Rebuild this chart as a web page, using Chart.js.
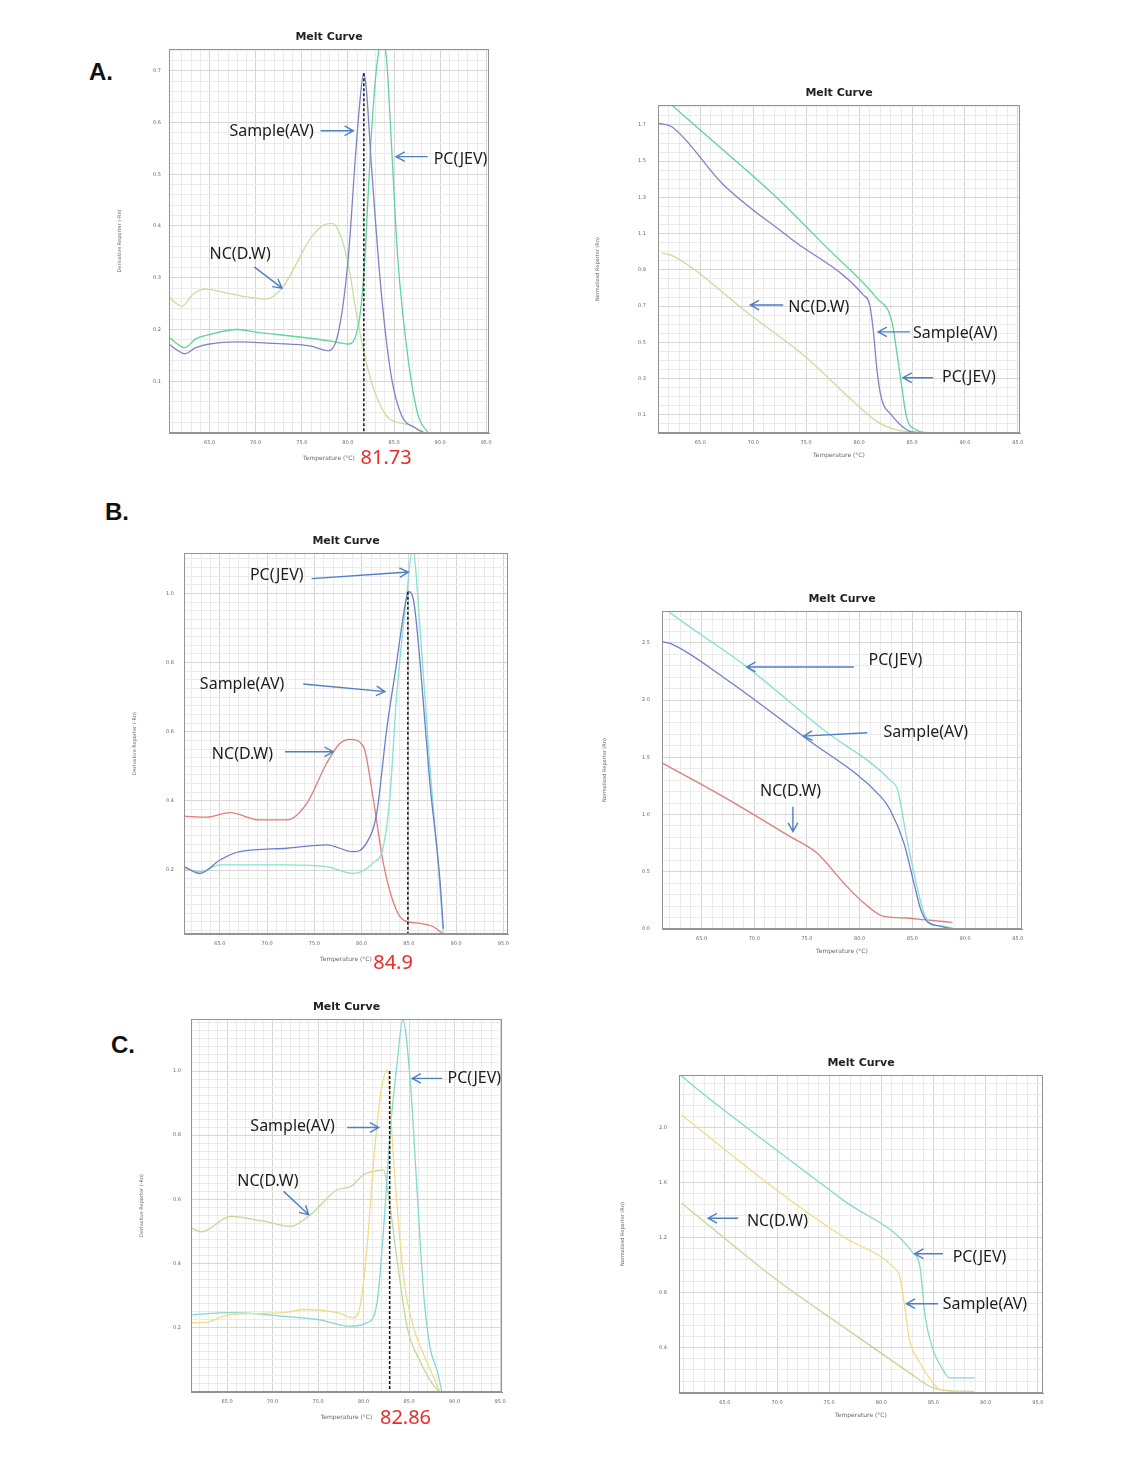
<!DOCTYPE html>
<html>
<head>
<meta charset="utf-8">
<script src="https://cdn.jsdelivr.net/npm/chart.js"></script>
<style>
body { margin: 0; background: #fff; }
#page { position: relative; width: 1145px; height: 1465px; overflow: hidden; background: #fff; }
.panel { position: absolute; font: bold 24px "Liberation Sans", Arial, sans-serif; color: #111; line-height: 28px; }
canvas { position: absolute; }
</style>
</head>
<body>
<div id="page">
  <div class="panel" style="left:89px;top:58px">A.</div>
  <div class="panel" style="left:105px;top:498px">B.</div>
  <div class="panel" style="left:111px;top:1031px">C.</div>
</div>
<script>
// ---- data: [temperature, value] ----
const tempTicks = [65, 70, 75, 80, 85, 90, 95];

// A. derivative
const aDerivSample = [[60.6,0.172],[61.5,0.16],[62.3,0.153],[63.5,0.165],[65,0.172],[68,0.176],[72,0.173],[76,0.168],[77.9,0.159],[79.0,0.197],[80.05,0.34],[80.8,0.53],[81.3,0.64],[81.7,0.695],[82.0,0.665],[82.5,0.53],[83.6,0.275],[84.7,0.11],[85.8,0.035],[87.3,0.01],[88.3,0]];
const aDerivPC = [[60.6,0.185],[61.5,0.172],[62.3,0.165],[63.5,0.182],[65,0.19],[67.9,0.2],[70,0.195],[75,0.185],[78,0.178],[80,0.172],[80.8,0.185],[81.4,0.24],[81.85,0.34],[82.5,0.565],[83.2,0.72],[83.7,0.76],[84.2,0.72],[84.7,0.565],[85.4,0.34],[86.5,0.147],[87.6,0.035],[88.7,0]];
const aDerivNC = [[60.6,0.263],[62.0,0.245],[63.2,0.268],[64.6,0.278],[67,0.27],[69,0.263],[71.1,0.259],[72.9,0.281],[74.5,0.33],[75.75,0.371],[77.2,0.4],[78.3,0.405],[79.0,0.39],[79.7,0.352],[80.3,0.3],[80.8,0.243],[81.85,0.147],[82.9,0.08],[84.35,0.03],[86.5,0.016],[88.3,0]];
const aDerivYTicks = [0.1, 0.2, 0.3, 0.4, 0.5, 0.6, 0.7];
const aTm = [[81.73,0.695],[81.73,0]];

// A. normalized
const aNormSample = [[61.07,1.709],[62.3,1.69],[67.2,1.369],[73.5,1.075],[80.4,0.762],[81.0,0.707],[81.35,0.56],[81.67,0.358],[82.0,0.22],[82.3,0.156],[82.9,0.11],[84.0,0.04],[84.8,0.009],[86,0.002],[89.1,0]];
const aNormPC = [[61.0,1.88],[62.3,1.81],[67,1.57],[72.2,1.3],[77,1.02],[81.67,0.744],[83.1,0.615],[83.55,0.45],[84.0,0.266],[84.5,0.083],[85.4,0.018],[86.1,0.004],[89.1,0]];
const aNormNC = [[61.4,0.992],[62.3,0.98],[69.7,0.652],[74.7,0.432],[79.8,0.156],[81.67,0.064],[82.9,0.028],[84.8,0.005],[89.1,0]];
const aNormYTicks = [0.1, 0.3, 0.5, 0.7, 0.9, 1.1, 1.3, 1.5, 1.7];

// B. derivative
const bDerivPC = [[61.2,0.205],[62.9,0.195],[65.0,0.215],[72.1,0.215],[76.3,0.21],[79.1,0.19],[80.3,0.2],[81.2,0.22],[82.3,0.268],[83.0,0.412],[83.7,0.70],[84.76,0.99],[85.4,1.13],[86.2,0.894],[87.2,0.509],[88.1,0.22],[88.65,0.017]];
const bDerivSample = [[61.2,0.21],[62.9,0.19],[65.0,0.229],[67.1,0.253],[72.1,0.263],[76.3,0.273],[79.1,0.253],[80.5,0.277],[81.6,0.364],[82.65,0.605],[83.7,0.798],[84.5,0.95],[84.95,1.005],[85.5,0.98],[86.2,0.798],[87.2,0.46],[88.3,0.17],[88.65,0.03]];
const bDerivNC = [[61.2,0.356],[63.6,0.353],[66.06,0.366],[69.2,0.345],[72.1,0.345],[74.2,0.393],[76.3,0.509],[77.7,0.566],[78.8,0.578],[80.2,0.557],[81.2,0.412],[82.3,0.22],[83.4,0.104],[84.4,0.056],[86.2,0.046],[87.6,0.036],[88.65,0.015]];
const bDerivYTicks = [0.2, 0.4, 0.6, 0.8, 1.0];
const bTm = [[84.9,1.005],[84.9,0.015]];

// B. normalized
const bNormPC = [[61.25,2.82],[62.14,2.755],[69.3,2.29],[76.6,1.738],[82.9,1.30],[83.6,1.214],[84.5,0.778],[85.5,0.343],[86.1,0.139],[86.7,0.052],[88.0,0.023],[88.8,0.009]];
const bNormSample = [[61.34,2.508],[62.14,2.49],[67.06,2.20],[74.7,1.68],[82.0,1.156],[82.9,1.04],[84.2,0.75],[85.15,0.40],[85.8,0.168],[86.4,0.066],[87.7,0.023],[88.8,0]];
const bNormNC = [[61.34,1.447],[67.06,1.156],[73.4,0.807],[75.95,0.663],[78.5,0.40],[80.4,0.227],[82.3,0.11],[84.5,0.096],[86.1,0.081],[88.8,0.058]];
const bNormYTicks = [0.0, 0.5, 1.0, 1.5, 2.0, 2.5];

// C. derivative
const cDerivPC = [[61.04,0.241],[65.36,0.247],[71.2,0.236],[74.9,0.226],[78.55,0.205],[80.4,0.216],[81.5,0.283],[82.2,0.511],[82.95,0.822],[83.7,1.03],[84.3,1.16],[85.1,0.977],[85.9,0.614],[86.6,0.304],[87.3,0.138],[88.1,0.065],[88.6,0]];
const cDerivSample = [[61.04,0.216],[62.4,0.216],[65.36,0.241],[71.2,0.247],[73.4,0.257],[77.1,0.247],[78.9,0.231],[79.65,0.273],[80.4,0.459],[81.1,0.718],[81.85,0.925],[82.6,1.003],[83.3,0.718],[84.4,0.356],[85.5,0.2],[86.6,0.117],[87.7,0.045],[88.4,0]];
const cDerivNC = [[61.04,0.511],[62.25,0.499],[65.36,0.547],[69.0,0.532],[71.96,0.516],[74.15,0.552],[77.1,0.63],[78.55,0.64],[80.0,0.677],[81.5,0.69],[82.2,0.692],[82.6,0.64],[83.7,0.407],[84.8,0.2],[86.2,0.096],[87.7,0.02],[88.4,0]];
const cDerivYTicks = [0.2, 0.4, 0.6, 0.8, 1.0];
const cTm = [[82.86,1.0],[82.86,0]];

// C. normalized
const cNormPC = [[60.6,2.39],[60.85,2.372],[69.95,1.836],[76.3,1.474],[83.04,1.088],[83.7,0.99],[84.2,0.629],[84.95,0.388],[85.9,0.243],[86.55,0.183],[88.95,0.183]];
const cNormSample = [[60.85,2.09],[69.95,1.546],[76.3,1.208],[81.1,0.99],[81.76,0.918],[82.24,0.701],[82.7,0.46],[83.7,0.291],[84.95,0.147],[85.6,0.098],[88.9,0.079]];
const cNormNC = [[60.85,1.45],[69.95,0.894],[76.3,0.556],[82.7,0.219],[84.6,0.122],[85.6,0.098],[88.9,0.084]];
const cNormYTicks = [0.4, 0.8, 1.2, 1.6, 2.0];

// annotations (text start point and arrow, in data units)
const aDerivNotes = [
  {text:'Sample(AV)', at:[67.15,0.582], from:[77.04,0.584], to:[80.59,0.584]},
  {text:'PC(JEV)', at:[89.3,0.528], from:[88.66,0.534], to:[85.22,0.534]},
  {text:'NC(D.W)', at:[65.0,0.346], from:[69.84,0.321], to:[72.85,0.280]}
];
const aNormNotes = [
  {text:'NC(D.W)', at:[73.3,0.695], from:[72.83,0.706], to:[69.72,0.706]},
  {text:'Sample(AV)', at:[85.09,0.547], from:[84.81,0.558], to:[81.79,0.558]},
  {text:'PC(JEV)', at:[87.83,0.305], from:[86.98,0.305], to:[84.15,0.305]}
];
const bDerivNotes = [
  {text:'PC(JEV)', at:[68.18,1.053], from:[74.71,1.043], to:[84.95,1.062]},
  {text:'Sample(AV)', at:[62.88,0.738], from:[73.82,0.738], to:[82.48,0.716]},
  {text:'NC(D.W)', at:[64.15,0.533], from:[71.89,0.542], to:[77.0,0.542]}
];
const bNormNotes = [
  {text:'PC(JEV)', at:[80.84,2.348], from:[79.44,2.289], to:[69.29,2.289]},
  {text:'Sample(AV)', at:[82.27,1.72], from:[80.71,1.714], to:[74.68,1.685]},
  {text:'NC(D.W)', at:[70.55,1.2], from:[73.67,1.069], to:[73.67,0.851]}
];
const cDerivNotes = [
  {text:'PC(JEV)', at:[89.21,0.978], from:[88.63,0.977], to:[85.33,0.977]},
  {text:'Sample(AV)', at:[67.56,0.827], from:[78.19,0.824], to:[81.66,0.824]},
  {text:'NC(D.W)', at:[66.13,0.656], from:[71.22,0.625], to:[73.97,0.552]}
];
const cNormNotes = [
  {text:'NC(D.W)', at:[67.11,1.317], from:[66.27,1.341], to:[63.4,1.341]},
  {text:'PC(JEV)', at:[86.84,1.054], from:[85.91,1.083], to:[83.2,1.083]},
  {text:'Sample(AV)', at:[85.88,0.714], from:[85.43,0.721], to:[82.4,0.721]}
];

// ---- drawing ----
Chart.defaults.font.family = '"DejaVu Sans", sans-serif';
Chart.defaults.animation = false;

const near = (v, list) => list.some(t => Math.abs(v - t) < 1e-6);

const meltDecor = {
  id: 'meltDecor',
  afterDatasetsDraw(chart, args, o) {
    const {ctx, chartArea: a, scales: {x, y}} = chart;
    ctx.save();
    ctx.strokeStyle = '#939393';
    ctx.lineWidth = 1;
    ctx.strokeRect(a.left + 0.5, a.top + 0.5, a.right - a.left - 1, a.bottom - a.top - 1);

    ctx.textAlign = 'center';
    ctx.textBaseline = 'middle';
    ctx.fillStyle = '#222';
    ctx.font = 'bold 11px "DejaVu Sans"';
    ctx.fillText('Melt Curve', (a.left + a.right) / 2, a.top - 12);

    ctx.fillStyle = '#666';
    ctx.font = '6px "DejaVu Sans"';
    ctx.fillText('Temperature (°C)', (a.left + a.right) / 2, a.bottom + o.xTitleDy);
    ctx.save();
    ctx.translate(a.left - o.yTitleDx, (a.top + a.bottom) / 2);
    ctx.rotate(-Math.PI / 2);
    ctx.font = '5px "DejaVu Sans"';
    ctx.fillText(o.yTitle, 0, 0);
    ctx.restore();

    if (o.mark) {
      ctx.fillStyle = '#ee2b2b';
      ctx.font = '20px "Noto Sans"';
      ctx.fillText(o.mark.text, x.getPixelForValue(o.mark.x), a.bottom + o.mark.dy);
    }

    ctx.textAlign = 'left';
    o.notes.forEach(n => {
      ctx.fillStyle = '#1d1d1d';
      ctx.font = '16px "Noto Sans"';
      ctx.fillText(n.text, x.getPixelForValue(n.at[0]), y.getPixelForValue(n.at[1]));
      const x1 = x.getPixelForValue(n.from[0]), y1 = y.getPixelForValue(n.from[1]);
      const x2 = x.getPixelForValue(n.to[0]), y2 = y.getPixelForValue(n.to[1]);
      const ang = Math.atan2(y2 - y1, x2 - x1);
      ctx.strokeStyle = '#4f7fc2';
      ctx.lineWidth = 1.4;
      ctx.beginPath();
      ctx.moveTo(x1, y1); ctx.lineTo(x2, y2);
      ctx.moveTo(x2 - 10 * Math.cos(ang - 0.5), y2 - 10 * Math.sin(ang - 0.5));
      ctx.lineTo(x2, y2);
      ctx.lineTo(x2 - 10 * Math.cos(ang + 0.5), y2 - 10 * Math.sin(ang + 0.5));
      ctx.stroke();
    });
    ctx.restore();
  }
};

function meltChart(p) {
  const [L, T, W, H] = p.box;
  const cv = document.createElement('canvas');
  const padL = 65, padT = 28, padR = 40, padB = 55;
  cv.width = W + padL + padR;
  cv.height = H + padT + padB;
  cv.style.left = (L - padL) + 'px';
  cv.style.top = (T - padT) + 'px';
  cv.style.width = cv.width + 'px';
  cv.style.height = cv.height + 'px';
  document.getElementById('page').appendChild(cv);

  const datasets = p.series.map(s => ({
    data: s[0].map(d => ({x: d[0], y: d[1]})),
    borderColor: s[1], borderWidth: 1.3, pointRadius: 0,
    cubicInterpolationMode: 'monotone', fill: false
  }));
  if (p.tm) datasets.unshift({
    data: p.tm.map(d => ({x: d[0], y: d[1]})),
    borderColor: '#111', borderWidth: 1.5, borderDash: [3, 2], pointRadius: 0
  });

  new Chart(cv, {
    type: 'line',
    data: {datasets},
    options: {
      responsive: false,
      layout: {padding: {left: 0, top: padT, right: padR, bottom: padB - 14}},
      plugins: {
        legend: {display: false}, tooltip: {enabled: false},
        meltDecor: {yTitle: p.yTitle, xTitleDy: p.xTitleDy, yTitleDx: p.yTitleDx, notes: p.notes, mark: p.mark}
      },
      scales: {
        x: {
          type: 'linear', min: p.x[0], max: p.x[1],
          afterBuildTicks: s => {
            const t = [];
            for (let v = Math.ceil(s.min); v <= s.max; v++) t.push({value: v});
            s.ticks = t;
          },
          afterFit: s => { s.height = 14; s.paddingLeft = 0; s.paddingRight = 0; },
          ticks: {
            autoSkip: false, maxRotation: 0, padding: 7, color: '#666', font: {size: 5},
            callback: v => near(v, tempTicks) ? v.toFixed(1) : ''
          },
          grid: {drawTicks: false, color: c => near(c.tick.value, tempTicks) ? '#d6d6d6' : '#ebebeb'},
          border: {color: '#939393'}
        },
        y: {
          type: 'linear', min: p.y[0], max: p.y[1],
          afterBuildTicks: s => {
            const t = [];
            for (let i = Math.ceil(s.min / p.grid - 1e-9); i * p.grid <= s.max + 1e-9; i++) t.push({value: +(i * p.grid).toFixed(4)});
            s.ticks = t;
          },
          afterFit: s => { s.width = padL; s.paddingTop = 0; s.paddingBottom = 0; },
          ticks: {
            autoSkip: false, padding: p.tickPad, color: '#666', font: {size: 5},
            callback: v => near(v, p.yTicks) ? v.toFixed(1) : ''
          },
          grid: {drawTicks: false, color: c => near(c.tick.value, p.yTicks) ? '#d6d6d6' : '#ebebeb'},
          border: {color: '#939393'}
        }
      }
    },
    plugins: [meltDecor]
  });
}

const derivTitle = 'Derivative Reporter (-Rn)';
const normTitle = 'Normalized Reporter (Rn)';

meltChart({box: [169, 49, 320, 384], x: [60.6, 95.3], y: [0, 0.742], grid: 0.02, yTicks: aDerivYTicks, tickPad: 8,
  yTitle: derivTitle, xTitleDy: 25, yTitleDx: 49, notes: aDerivNotes, tm: aTm, mark: {text: '81.73', x: 84.14, dy: 25},
  series: [[aDerivSample, '#7d84c8'], [aDerivPC, '#5fd49c'], [aDerivNC, '#c4e09a']]});
meltChart({box: [658, 105, 362, 328], x: [61.0, 95.2], y: [0, 1.81], grid: 0.05, yTicks: aNormYTicks, tickPad: 12,
  yTitle: normTitle, xTitleDy: 22, yTitleDx: 60, notes: aNormNotes,
  series: [[aNormSample, '#7d84c8'], [aNormPC, '#5fd49c'], [aNormNC, '#c4e09a']]});
meltChart({box: [184, 553, 324, 381], x: [61.2, 95.5], y: [0.015, 1.117], grid: 0.025, yTicks: bDerivYTicks, tickPad: 10,
  yTitle: derivTitle, xTitleDy: 25, yTitleDx: 49, notes: bDerivNotes, tm: bTm, mark: {text: '84.9', x: 83.33, dy: 29},
  series: [[bDerivSample, '#6d7fc6'], [bDerivPC, '#86e0d4'], [bDerivNC, '#dc7e77']]});
meltChart({box: [662, 611, 360, 318], x: [61.25, 95.4], y: [0, 2.778], grid: 0.1, yTicks: bNormYTicks, tickPad: 12,
  yTitle: normTitle, xTitleDy: 22, yTitleDx: 57, notes: bNormNotes,
  series: [[bNormSample, '#6d7fc6'], [bNormPC, '#86e0d4'], [bNormNC, '#dc7e77']]});
meltChart({box: [191, 1019, 311, 373], x: [61.04, 95.2], y: [0, 1.162], grid: 0.025, yTicks: cDerivYTicks, tickPad: 10,
  yTitle: derivTitle, xTitleDy: 25, yTitleDx: 49, notes: cDerivNotes, tm: cTm, mark: {text: '82.86', x: 84.6, dy: 26},
  series: [[cDerivSample, '#f0dc86'], [cDerivPC, '#84d8cf'], [cDerivNC, '#bcdb95']]});
meltChart({box: [679, 1075, 364, 318], x: [60.6, 95.5], y: [0.073, 2.38], grid: 0.08, yTicks: cNormYTicks, tickPad: 12,
  yTitle: normTitle, xTitleDy: 22, yTitleDx: 56, notes: cNormNotes,
  series: [[cNormSample, '#f0dc86'], [cNormPC, '#84d8cf'], [cNormNC, '#bcdb95']]});
</script>
</body>
</html>
